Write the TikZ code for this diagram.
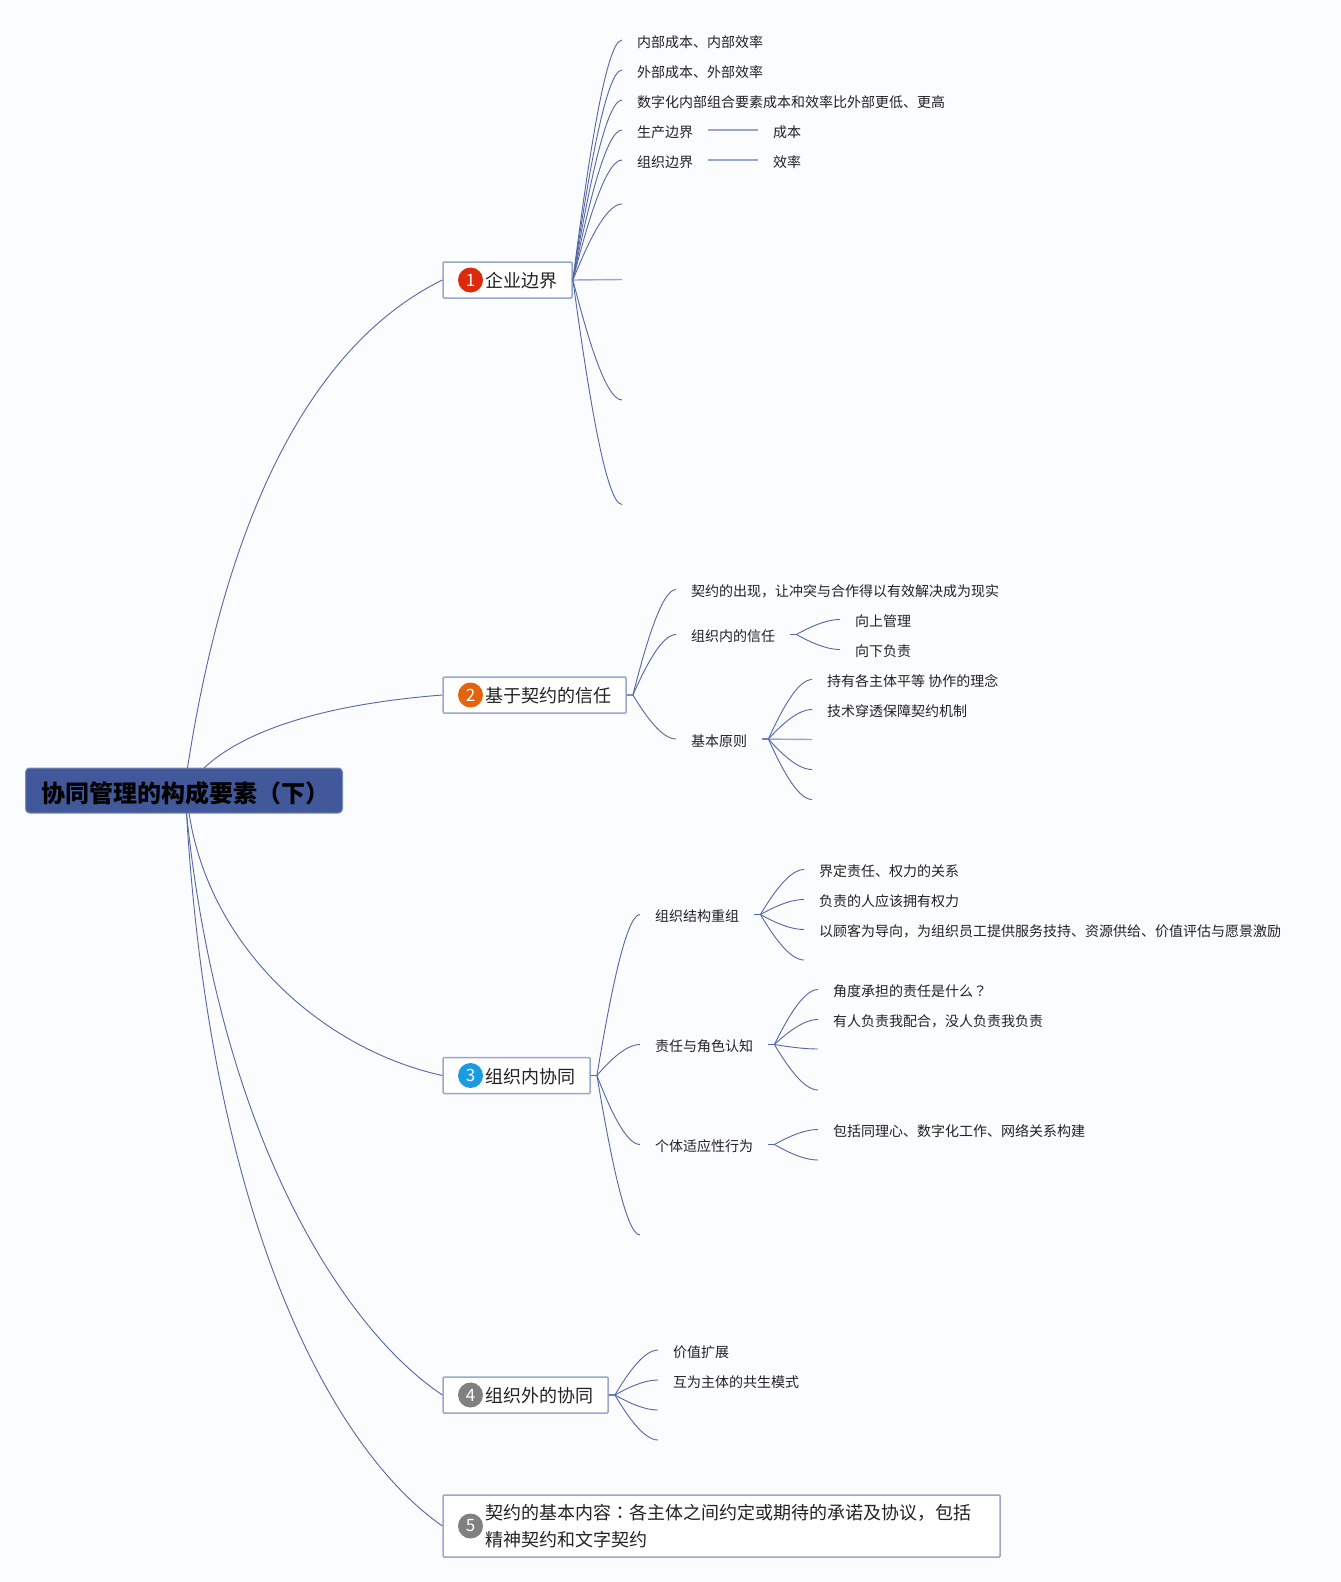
\documentclass[tikz,border=0pt]{standalone}
\usepackage{fontspec}
\setmainfont{Noto Sans CJK SC}
\newfontfamily\puncfont{Noto Sans CJK TC}
\usetikzlibrary{calc}
\definecolor{PageColor}{HTML}{FBFCFE}
\definecolor{RootColor}{HTML}{41589B}
\definecolor{RootBorder}{HTML}{7C8DBE}
\definecolor{BoxBorder}{HTML}{9AA6CC}
\definecolor{EdgeColor}{HTML}{5566A5}
\definecolor{TextColor}{HTML}{222222}
\definecolor{BadgeA}{HTML}{DD2A0A}
\definecolor{BadgeB}{HTML}{E2640F}
\definecolor{BadgeC}{HTML}{1B9CE2}
\definecolor{BadgeD}{HTML}{808080}

\begin{document}
\begin{tikzpicture}[x=1pt,y=-1pt]
		\tikzstyle{RootStyle}=[fill=RootColor,draw=RootBorder,line width=1pt,rounded corners=4pt,anchor=west,inner xsep=12.5pt,inner ysep=0pt,text height=24pt,text depth=0pt,minimum height=45pt,font=\fontsize{24}{28}\selectfont\bfseries,text=black]
		\tikzstyle{BoxStyle}=[fill=white,draw=BoxBorder,line width=1.5pt,rounded corners=1pt,anchor=west,inner xsep=15pt,minimum height=36pt,font=\fontsize{18}{25.5}\selectfont,text=TextColor]
		\tikzstyle{BadgeStyle}=[circle,minimum size=25pt,inner sep=0pt,text=white,font=\fontsize{17}{17}\selectfont]
		\tikzstyle{LeafStyle}=[anchor=west,inner xsep=15pt,inner ysep=2pt,text height=14.4pt,text depth=0pt,font=\fontsize{14}{16}\selectfont,text=TextColor]
		\tikzstyle{EdgeStyle}=[draw=EdgeColor,line width=0.9pt]
		\tikzstyle{StraightStyle}=[draw=BoxBorder,line width=1.4pt]
		\tikzstyle{BranchStyle}[6pt]=[EdgeStyle,to path={let \p1=(\tikztostart),\p2=(\tikztotarget) in -- ++(#1,0pt) .. controls ({\x1+#1+0.25*(\x2-\x1-#1)},{\y1+0.4*(\y2-\y1)}) and ({\x1+#1+0.65*(\x2-\x1-#1)},{\y2}) .. (\tikztotarget)}]
		\useasboundingbox (0,0) rectangle (1341,1582);
		\fill[PageColor] (0,0) rectangle (1341,1582);
		% main topics
		\node[RootStyle] (R) at (25,790.5) {\hspace*{3pt}协同管理的构成要素（下）\hspace*{1pt}};
		\coordinate (RA) at (187.5,768);
		\coordinate (RB) at (204,768);
		\coordinate (RC) at (189,813);
		\coordinate (RD) at (186.5,813);
		\node[BoxStyle,text height=15.4pt,text depth=0pt] (B1) at (442.4,280) {\hspace*{27pt}企业边界};
		\node[BoxStyle,text height=15.4pt,text depth=0pt] (B2) at (442.4,695) {\hspace*{27pt}基于契约的信任};
		\node[BoxStyle,text height=15.4pt,text depth=0pt] (B3) at (442.4,1075.5) {\hspace*{27pt}组织内协同};
		\node[BoxStyle,text height=15.4pt,text depth=0pt] (B4) at (442.4,1395) {\hspace*{27pt}组织外的协同};
		\node[BoxStyle,text width=527pt,align=left,minimum height=62pt] (B5) at (442.4,1526) {\vspace*{5pt}\hspace*{27pt}契约的基本内容{\puncfont ：}各主体之间约定或期待的承诺及协议，包括\\[-3pt]\hspace*{27pt}精神契约和文字契约};
		\node[BadgeStyle,fill=BadgeA] (N1) at (470.5,280) {1};
		\node[BadgeStyle,fill=BadgeB] (N2) at (470.5,695) {2};
		\node[BadgeStyle,fill=BadgeC] (N3) at (470.5,1075.5) {3};
		\node[BadgeStyle,fill=BadgeD] (N4) at (470.5,1395) {4};
		\node[BadgeStyle,fill=BadgeD] (N5) at (470.5,1526) {5};
		% first topic
		\node[LeafStyle] (A1) at (622,40) {内部成本、内部效率};
		\node[LeafStyle] (A2) at (622,70) {外部成本、外部效率};
		\node[LeafStyle] (A3) at (622,100) {数字化内部组合要素成本和效率比外部更低、更高};
		\node[LeafStyle] (A4) at (622,130) {生产边界};
		\node[LeafStyle] (A5) at (622,160) {组织边界};
		\coordinate (A6) at (622,204);
		\coordinate (A7) at (622,279.5);
		\coordinate (A8) at (622,400);
		\coordinate (A9) at (622,504.5);
		\node[LeafStyle] (A41) at (758,130) {成本};
		\node[LeafStyle] (A51) at (758,160) {效率};
		% second topic
		\node[LeafStyle] (C1) at (676,589.5) {契约的出现，让冲突与合作得以有效解决成为现实};
		\node[LeafStyle] (C2) at (676,634.5) {组织内的信任};
		\node[LeafStyle] (C3) at (676,739) {基本原则};
		\node[LeafStyle] (C21) at (840,619.5) {向上管理};
		\node[LeafStyle] (C22) at (840,649.5) {向下负责};
		\node[LeafStyle] (C31) at (812,679.5) {持有各主体平等 协作的理念};
		\node[LeafStyle] (C32) at (812,709.5) {技术穿透保障契约机制};
		\coordinate (C33) at (812,739.5);
		\coordinate (C34) at (812,769.5);
		\coordinate (C35) at (812,799.5);
		% third topic
		\node[LeafStyle] (D1) at (640,914.5) {组织结构重组};
		\node[LeafStyle] (D2) at (640,1044.5) {责任与角色认知};
		\node[LeafStyle] (D3) at (640,1144.5) {个体适应性行为};
		\coordinate (D4) at (640,1235);
		\node[LeafStyle] (D11) at (804,869.5) {界定责任、权力的关系};
		\node[LeafStyle] (D12) at (804,899.5) {负责的人应该拥有权力};
		\node[LeafStyle] (D13) at (804,929.5) {以顾客为导向，为组织员工提供服务技持、资源供给、价值评估与愿景激励};
		\coordinate (D14) at (804,960);
		\node[LeafStyle] (D21) at (818,989.5) {角度承担的责任是什么{\puncfont ？}};
		\node[LeafStyle] (D22) at (818,1019.5) {有人负责我配合，没人负责我负责};
		\coordinate (D23) at (818,1049);
		\coordinate (D24) at (818,1090);
		\node[LeafStyle] (D31) at (818,1129.5) {包括同理心、数字化工作、网络关系构建};
		\coordinate (D32) at (818,1160);
		% fourth topic
		\node[LeafStyle] (E1) at (658,1350) {价值扩展};
		\node[LeafStyle] (E2) at (658,1380) {互为主体的共生模式};
		\coordinate (E3) at (658,1410);
		\coordinate (E4) at (658,1440);
		% edges from the root
		\draw[EdgeStyle] (RA) .. controls (226,518) and (310,345) .. (B1.west);
		\draw[EdgeStyle] (RB) .. controls (250,725) and (340,703) .. (B2.west);
		\draw[EdgeStyle] (RC) .. controls (210,950) and (325,1050) .. (B3.west);
		\draw[EdgeStyle] (RD) .. controls (220,1140) and (345,1330) .. (B4.west);
		\draw[EdgeStyle] (RD) .. controls (212,1240) and (340,1455) .. (B5.west);
		% edges of the topics
		\draw[BranchStyle=0pt] (B1.east) to (A1.west);
		\draw[BranchStyle=0pt] (B1.east) to (A2.west);
		\draw[BranchStyle=0pt] (B1.east) to (A3.west);
		\draw[BranchStyle=0pt] (B1.east) to (A4.west);
		\draw[BranchStyle=0pt] (B1.east) to (A5.west);
		\draw[BranchStyle=0pt] (B1.east) to (A6);
		\draw[StraightStyle] (B1.east) -- (A7);
		\draw[BranchStyle=0pt] (B1.east) to (A8);
		\draw[BranchStyle=0pt] (B1.east) to (A9);
		\draw[StraightStyle] (A4.east) -- (A41.west);
		\draw[StraightStyle] (A5.east) -- (A51.west);
		\draw[BranchStyle] (B2.east) to (C1.west);
		\draw[BranchStyle] (B2.east) to (C2.west);
		\draw[BranchStyle] (B2.east) to (C3.west);
		\draw[BranchStyle] (C2.east) to (C21.west);
		\draw[BranchStyle] (C2.east) to (C22.west);
		\draw[BranchStyle] (C3.east) to (C31.west);
		\draw[BranchStyle] (C3.east) to (C32.west);
		\draw[StraightStyle] (C3.east) -- (C33);
		\draw[BranchStyle] (C3.east) to (C34);
		\draw[BranchStyle] (C3.east) to (C35);
		\draw[BranchStyle] (B3.east) to (D1.west);
		\draw[BranchStyle] (B3.east) to (D2.west);
		\draw[BranchStyle] (B3.east) to (D3.west);
		\draw[BranchStyle] (B3.east) to (D4);
		\draw[BranchStyle] (D1.east) to (D11.west);
		\draw[BranchStyle] (D1.east) to (D12.west);
		\draw[BranchStyle] (D1.east) to (D13.west);
		\draw[BranchStyle] (D1.east) to (D14);
		\draw[BranchStyle] (D2.east) to (D21.west);
		\draw[BranchStyle] (D2.east) to (D22.west);
		\draw[BranchStyle] (D2.east) to (D23);
		\draw[BranchStyle] (D2.east) to (D24);
		\draw[BranchStyle] (D3.east) to (D31.west);
		\draw[BranchStyle] (D3.east) to (D32);
		\draw[BranchStyle] (B4.east) to (E1.west);
		\draw[BranchStyle] (B4.east) to (E2.west);
		\draw[BranchStyle] (B4.east) to (E3);
		\draw[BranchStyle] (B4.east) to (E4);
	\end{tikzpicture}
\end{document}
